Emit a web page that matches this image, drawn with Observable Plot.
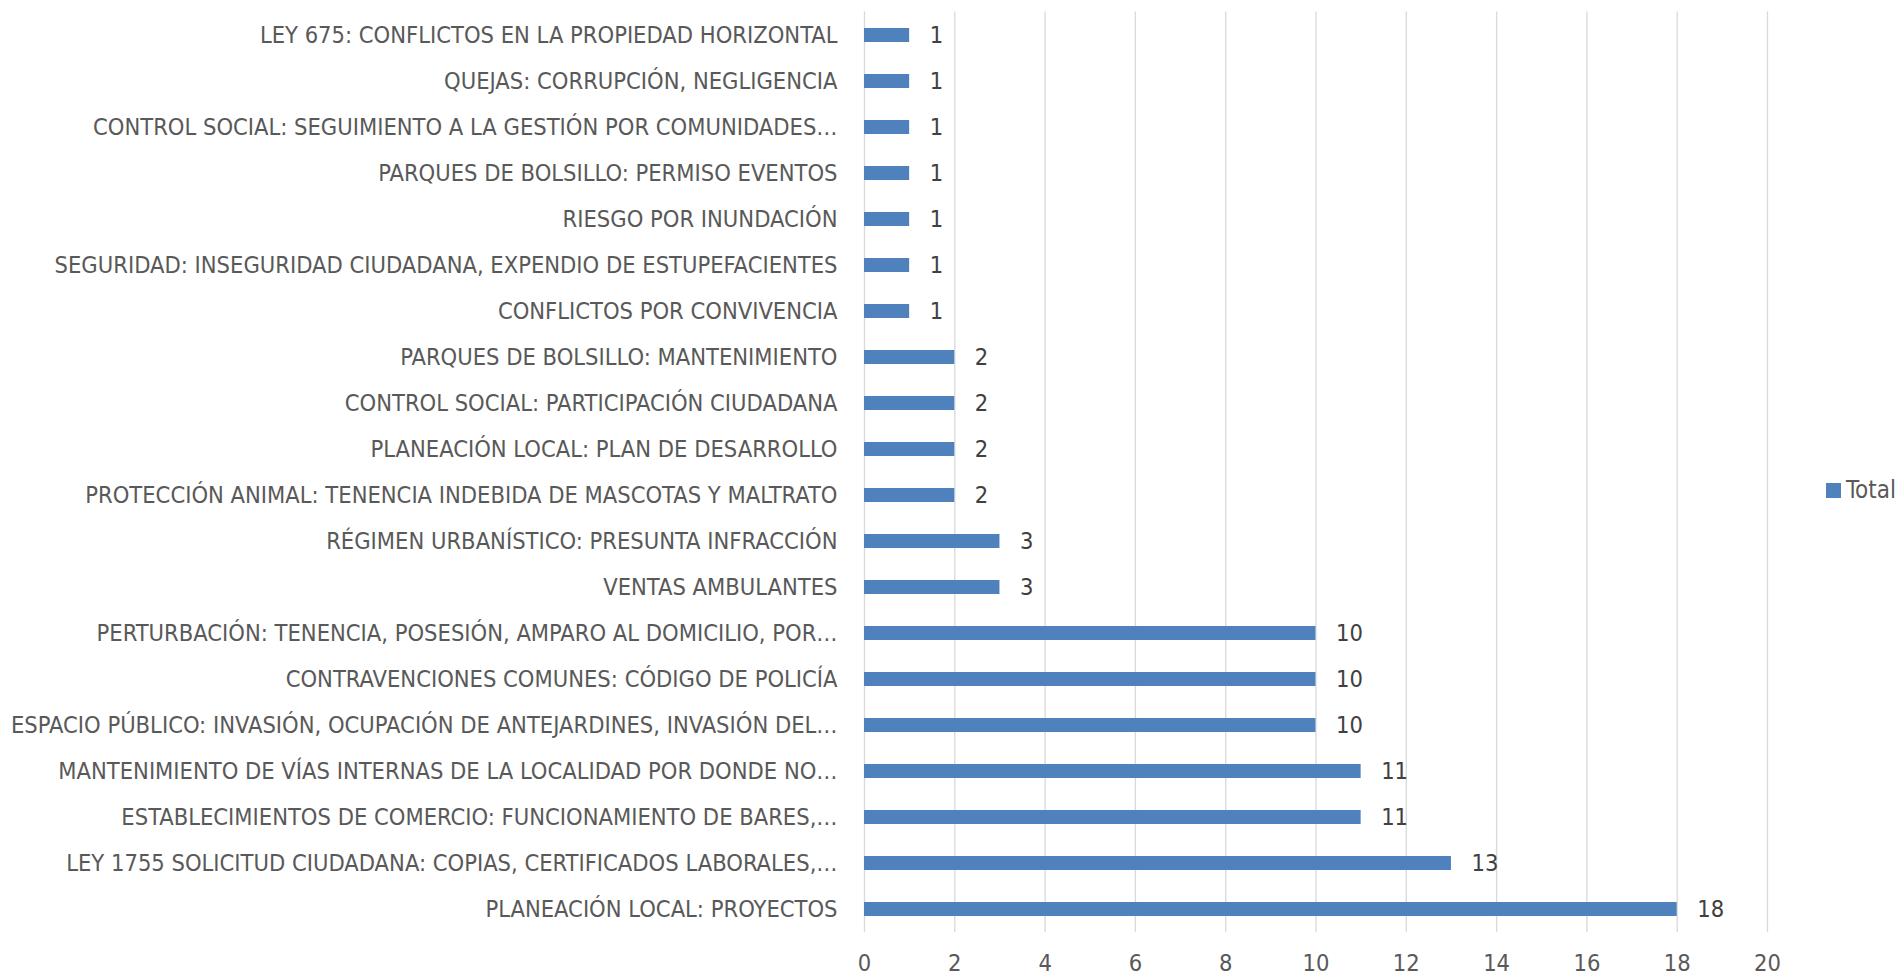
<!DOCTYPE html>
<html>
<head>
<meta charset="utf-8">
<script src="https://cdn.jsdelivr.net/npm/d3@7"></script>
<script src="https://cdn.jsdelivr.net/npm/@observablehq/plot@0.6"></script>
<style>
  body { margin: 0; background: #fff; }
  #wrap { position: relative; width: 1903px; height: 977px; overflow: hidden; }
  #legend { position: absolute; left: 1826px; top: 476px; display: flex; align-items: center;
            font-family: "Liberation Sans Narrow", "DejaVu Sans Condensed", sans-serif; font-size: 24px; color: #595959; }
  #legend .sw { width: 15px; height: 15px; background: #4f81bd; margin-right: 5px; }
</style>
</head>
<body>
<div id="wrap"><div id="chart"></div><div id="legend"><span class="sw"></span><span>Total</span></div></div>
<script>
const categories = [
  "LEY 675: CONFLICTOS EN LA PROPIEDAD HORIZONTAL",
  "QUEJAS: CORRUPCIÓN, NEGLIGENCIA",
  "CONTROL SOCIAL: SEGUIMIENTO A LA GESTIÓN POR COMUNIDADES…",
  "PARQUES DE BOLSILLO: PERMISO EVENTOS",
  "RIESGO POR INUNDACIÓN",
  "SEGURIDAD: INSEGURIDAD CIUDADANA, EXPENDIO DE ESTUPEFACIENTES",
  "CONFLICTOS POR CONVIVENCIA",
  "PARQUES DE BOLSILLO: MANTENIMIENTO",
  "CONTROL SOCIAL: PARTICIPACIÓN CIUDADANA",
  "PLANEACIÓN LOCAL: PLAN DE DESARROLLO",
  "PROTECCIÓN ANIMAL: TENENCIA INDEBIDA DE MASCOTAS Y MALTRATO",
  "RÉGIMEN URBANÍSTICO: PRESUNTA INFRACCIÓN",
  "VENTAS AMBULANTES",
  "PERTURBACIÓN: TENENCIA, POSESIÓN, AMPARO AL DOMICILIO, POR…",
  "CONTRAVENCIONES COMUNES: CÓDIGO DE POLICÍA",
  "ESPACIO PÚBLICO: INVASIÓN, OCUPACIÓN DE ANTEJARDINES, INVASIÓN DEL…",
  "MANTENIMIENTO DE VÍAS INTERNAS DE LA LOCALIDAD POR DONDE NO…",
  "ESTABLECIMIENTOS DE COMERCIO: FUNCIONAMIENTO DE BARES,…",
  "LEY 1755 SOLICITUD CIUDADANA: COPIAS, CERTIFICADOS LABORALES,…",
  "PLANEACIÓN LOCAL: PROYECTOS"
];
const totals = [1, 1, 1, 1, 1, 1, 1, 2, 2, 2, 2, 3, 3, 10, 10, 10, 11, 11, 13, 18];
const xTicks = [0, 2, 4, 6, 8, 10, 12, 14, 16, 18, 20];

const data = categories.map((c, i) => ({category: c, value: totals[i]}));
const font = '"Liberation Sans Narrow", "DejaVu Sans Condensed", sans-serif';

const chart = Plot.plot({
  width: 1903,
  height: 977,
  marginLeft: 864,
  marginRight: 136,
  marginTop: 11.5,
  marginBottom: 45,
  style: {fontFamily: font, fontSize: "23.5px", color: "#595959", background: "#fff"},
  x: {domain: [0, 20]},
  y: {domain: categories, paddingInner: 0.685, paddingOuter: 0.3425},
  marks: [
    Plot.gridX(xTicks, {stroke: "#d9d9d9", strokeOpacity: 1, strokeWidth: 1.3}),
    Plot.barX(data, {x: "value", y: "category", fill: "#4f81bd"}),
    Plot.text(data, {x: "value", y: "category", text: d => String(d.value), textAnchor: "start", dx: 20, fill: "#404040", fontSize: 23.5}),
    Plot.axisY({tickSize: 0, tickPadding: 27, fontSize: 23.5, label: null}),
    Plot.axisX(xTicks, {tickSize: 0, tickPadding: 22, fontSize: 23.5, label: null})
  ]
});
document.getElementById("chart").appendChild(chart);
</script>
</body>
</html>
